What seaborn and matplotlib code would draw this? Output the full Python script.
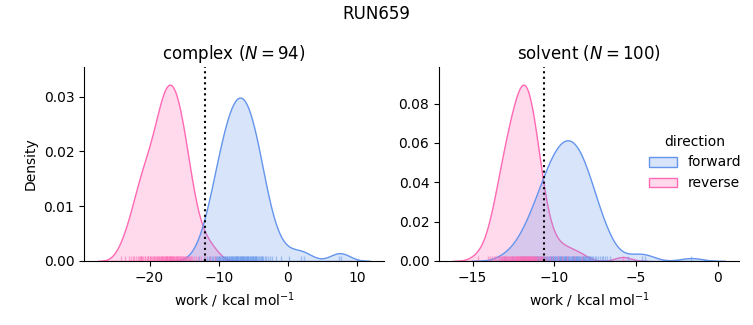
import numpy as np
import pandas as pd
import matplotlib
matplotlib.use("Agg")
import matplotlib.pyplot as plt
import seaborn as sns

run_name = "RUN659"
phases = ["complex", "solvent"]
free_energy = {"complex": -12.0, "solvent": -10.6}
xlabel = r"work / kcal mol$^{-1}$"

complex_forward = [
    -12.9, -12.2, -11.7, -11.4, -11.2, -11.0, -10.8, -10.6,
    -10.4, -10.3, -10.1, -10.0, -9.9, -9.8, -9.7, -9.6,
    -9.45, -9.35, -9.25, -9.15, -9.05, -8.95, -8.85, -8.75, -8.65, -8.55,
    -8.46, -8.37, -8.29, -8.21, -8.12, -8.04, -7.96, -7.88, -7.79, -7.71, -7.63, -7.54,
    -7.46, -7.38, -7.31, -7.23, -7.15, -7.08, -7.00, -6.92, -6.85, -6.77, -6.69, -6.62, -6.54,
    -6.46, -6.37, -6.29, -6.21, -6.12, -6.04, -5.96, -5.88, -5.79, -5.71, -5.63, -5.54,
    -5.45, -5.36, -5.27, -5.18, -5.09, -5.00, -4.91, -4.82, -4.73, -4.64, -4.55,
    -4.44, -4.31, -4.19, -4.06, -3.94, -3.81, -3.69, -3.56,
    -3.38, -3.13, -2.88, -2.63, -2.25, -1.75, -1.0, 0.2, 1.9, 2.3, 7.4, 7.6,
]
complex_reverse = [
    -24.1, -23.5, -23.0, -22.7, -22.4, -22.2, -21.9,
    -21.72, -21.55, -21.38, -21.22, -21.20, -21.05, -20.88,
    -20.73, -20.59, -20.44, -20.30, -20.16, -20.01, -19.87,
    -19.74, -19.63, -19.52, -19.41, -19.30, -19.19, -19.08, -18.97, -18.86,
    -18.76, -18.67, -18.59, -18.51, -18.42, -18.34, -18.26, -18.18, -18.09, -18.01, -17.93, -17.84,
    -17.76, -17.69, -17.62, -17.55, -17.48, -17.41, -17.34, -17.26, -17.19, -17.12, -17.05, -16.98, -16.91, -16.84,
    -16.76, -16.69, -16.62, -16.55, -16.48, -16.41, -16.26, -16.19, -16.12, -16.05, -15.98, -15.91, -15.84,
    -15.75, -15.66, -15.57, -15.48, -15.39, -15.30, -15.21, -15.12, -15.03, -14.94, -14.85,
    -14.73, -14.59, -14.44, -14.30, -14.16, -14.01, -13.87,
    -13.63, -13.30, -12.97, -12.55, -12.05, -11.3, -10.6,
]
solvent_forward = [
    -13.0, -12.55, -12.02, -11.90, -11.87, -11.72, -11.58, -11.43, -11.28,
    -11.18, -11.12, -11.05, -10.99, -10.93, -10.87, -10.81, -10.74, -10.68, -10.61, -10.55, -10.49, -10.43, -10.37,
    -10.31, -10.27, -10.23, -10.18, -10.15, -10.10, -10.06, -10.02, -9.98, -9.94, -9.89,
    -9.85, -9.80, -9.77, -9.72, -9.68, -9.64, -9.60, -9.56, -9.51, -9.47,
    -9.43, -9.40, -9.36, -9.33, -9.29, -9.26, -9.22, -9.19, -9.15, -9.12, -9.01,
    -8.98, -8.94, -8.91, -8.87, -8.84, -8.80, -8.77, -8.73, -8.70, -8.66, -8.63, -8.59,
    -8.55, -8.50, -8.46, -8.41, -8.36, -8.32, -8.27, -8.23, -8.18, -8.13,
    -8.09, -8.04, -7.99, -7.95, -7.90, -7.85, -7.81, -7.76, -7.72,
    -7.64, -7.53, -7.42, -7.31, -7.20, -7.09, -7.00, -6.90, -6.75, -6.60,
    -5.5, -4.6, -4.45, -1.6,
]
solvent_reverse = [
    -14.70, -14.08, -13.95, -13.82,
    -13.70, -13.62, -13.55, -13.47, -13.40, -13.33,
    -13.27, -13.23, -13.19, -13.15, -13.11, -13.07, -13.03, -12.99, -12.95, -12.91, -12.87,
    -12.83, -12.80, -12.76, -12.72, -12.68, -12.65, -12.61, -12.58, -12.54, -12.50, -12.46, -12.43,
    -12.39, -12.37, -12.34, -12.31, -12.29, -12.26, -12.23, -12.21, -12.17, -12.15, -12.12, -12.09, -12.07, -12.04, -12.01, -11.99,
    -11.96, -11.93, -11.91, -11.88, -11.86, -11.84, -11.81, -11.79, -11.76, -11.74, -11.71, -11.69, -11.66, -11.64, -11.62, -11.59, -11.57, -11.54,
    -11.51, -11.49, -11.46, -11.42, -11.40, -11.37, -11.34, -11.31, -11.28, -11.25, -11.22, -11.20, -11.16, -11.13, -11.11,
    -11.06, -11.01, -10.95, -10.90, -10.84, -10.79, -10.73, -10.68,
    -10.58, -10.43, -10.28, -10.10, -9.75, -9.50, -9.20, -8.80, -8.30, -5.8,
]

series = {
    ("complex", "forward"): complex_forward,
    ("complex", "reverse"): complex_reverse,
    ("solvent", "forward"): solvent_forward,
    ("solvent", "reverse"): solvent_reverse,
}
frames = []
for (phase, direction), vals in series.items():
    frames.append(pd.DataFrame({"work": vals, "direction": direction, "phase": phase}))
df = pd.concat(frames, ignore_index=True)

palette = {"forward": "cornflowerblue", "reverse": "hotpink"}

g = sns.displot(
    data=df, x="work", hue="direction", col="phase", col_order=phases,
    kind="kde", fill=True, rug=True, common_norm=True, palette=palette,
    rug_kws=dict(alpha=0.5),
    facet_kws=dict(sharex=False, sharey=False),
    height=3.0, aspect=1.1,
)

n_counts = {p: len(series[(p, "forward")]) for p in phases}
for phase, ax in g.axes_dict.items():
    ax.axvline(free_energy[phase], color="black", linestyle=":", linewidth=1.5)
    ax.set_title(rf"{phase} ($N={n_counts[phase]}$)", fontsize=12)
    ax.set_xlabel(xlabel)
g.axes_dict["complex"].set_ylabel("Density")
g.axes_dict["solvent"].set_ylabel("")

fig = g.figure
fig.set_size_inches(7.53, 3.25)
fig.subplots_adjust(left=84 / 753, right=739 / 753, bottom=1 - 261 / 325,
                    top=1 - 67 / 325, wspace=55 / 300)
sns.move_legend(g, "center left", bbox_to_anchor=(0.845, 0.5), frameon=False)
fig.suptitle(run_name, fontsize=12, y=0.985)

fig.savefig("out.png", dpi=100)
